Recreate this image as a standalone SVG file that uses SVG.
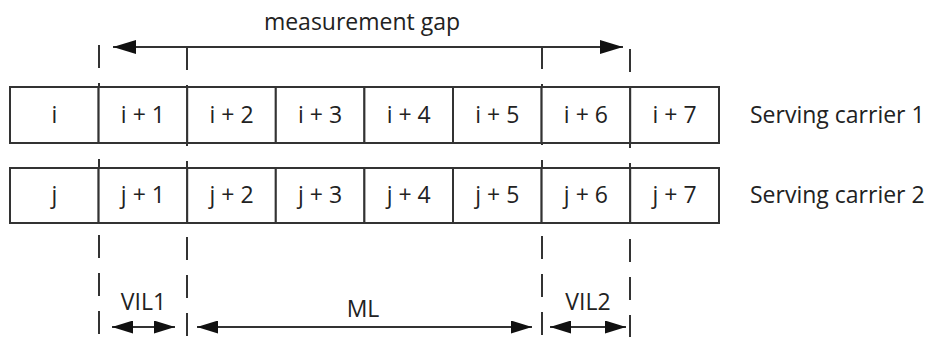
<svg xmlns="http://www.w3.org/2000/svg" width="932" height="342" viewBox="0 0 932 342">
  <style>
    .cell { fill: #ffffff; stroke: #333333; stroke-width: 2; }
    .t { font-family: "Open Sans", "Liberation Sans", sans-serif; font-size: 23px; fill: #222222; }
    .c { text-anchor: middle; }
    .dash { stroke: #333333; stroke-width: 2; stroke-dasharray: 23 15; fill: none; }
    .arr { stroke: #333333; stroke-width: 2; fill: none; }
  </style>
  <defs>
    <marker id="big" viewBox="0 0 23 14" refX="23" refY="7" markerWidth="23" markerHeight="14" markerUnits="userSpaceOnUse" orient="auto-start-reverse">
      <path d="M0,0 L23,7 L0,14 Z" fill="#111111"/>
    </marker>
    <marker id="small" viewBox="0 0 21 13" refX="21" refY="6.5" markerWidth="21" markerHeight="13" markerUnits="userSpaceOnUse" orient="auto-start-reverse">
      <path d="M0,0 L21,6.5 L0,13 Z" fill="#111111"/>
    </marker>
  </defs>
  <rect width="932" height="342" fill="#ffffff"/>

  <g id="connectors">
    <line class="dash" x1="99" y1="45" x2="99" y2="337"/>
    <line class="dash" x1="187" y1="47" x2="187" y2="337"/>
    <line class="dash" x1="542" y1="46" x2="542" y2="337"/>
    <line class="dash" x1="630" y1="49" x2="630" y2="337"/>
    <line id="gap-arrow" class="arr" x1="113" y1="47" x2="623" y2="47" marker-start="url(#big)" marker-end="url(#big)"/>
    <line id="vil1-arrow" class="arr" x1="112" y1="327" x2="175" y2="327" marker-start="url(#small)" marker-end="url(#small)"/>
    <line id="ml-arrow" class="arr" x1="197" y1="327" x2="532" y2="327" marker-start="url(#small)" marker-end="url(#small)"/>
    <line id="vil2-arrow" class="arr" x1="550" y1="327" x2="626" y2="327" marker-start="url(#small)" marker-end="url(#small)"/>
  </g>

  <g id="carrier1">
    <g id="c1-0"><rect class="cell" x="10" y="87" width="88.6" height="56"/><text class="t c" x="54.3" y="123">i</text></g>
    <g id="c1-1"><rect class="cell" x="98.6" y="87" width="88.6" height="56"/><text class="t c" x="142.9" y="123">i + 1</text></g>
    <g id="c1-2"><rect class="cell" x="187.2" y="87" width="88.6" height="56"/><text class="t c" x="231.5" y="123">i + 2</text></g>
    <g id="c1-3"><rect class="cell" x="275.8" y="87" width="88.6" height="56"/><text class="t c" x="320.1" y="123">i + 3</text></g>
    <g id="c1-4"><rect class="cell" x="364.4" y="87" width="88.6" height="56"/><text class="t c" x="408.7" y="123">i + 4</text></g>
    <g id="c1-5"><rect class="cell" x="453" y="87" width="88.6" height="56"/><text class="t c" x="497.3" y="123">i + 5</text></g>
    <g id="c1-6"><rect class="cell" x="541.6" y="87" width="88.6" height="56"/><text class="t c" x="585.9" y="123">i + 6</text></g>
    <g id="c1-7"><rect class="cell" x="630.2" y="87" width="88.8" height="56"/><text class="t c" x="674.6" y="123">i + 7</text></g>
    <text id="label-c1" class="t" x="750" y="123">Serving carrier 1</text>
  </g>

  <g id="carrier2">
    <g id="c2-0"><rect class="cell" x="10" y="168" width="88.6" height="55"/><text class="t c" x="54.3" y="203">j</text></g>
    <g id="c2-1"><rect class="cell" x="98.6" y="168" width="88.6" height="55"/><text class="t c" x="142.9" y="203">j + 1</text></g>
    <g id="c2-2"><rect class="cell" x="187.2" y="168" width="88.6" height="55"/><text class="t c" x="231.5" y="203">j + 2</text></g>
    <g id="c2-3"><rect class="cell" x="275.8" y="168" width="88.6" height="55"/><text class="t c" x="320.1" y="203">j + 3</text></g>
    <g id="c2-4"><rect class="cell" x="364.4" y="168" width="88.6" height="55"/><text class="t c" x="408.7" y="203">j + 4</text></g>
    <g id="c2-5"><rect class="cell" x="453" y="168" width="88.6" height="55"/><text class="t c" x="497.3" y="203">j + 5</text></g>
    <g id="c2-6"><rect class="cell" x="541.6" y="168" width="88.6" height="55"/><text class="t c" x="585.9" y="203">j + 6</text></g>
    <g id="c2-7"><rect class="cell" x="630.2" y="168" width="88.8" height="55"/><text class="t c" x="674.6" y="203">j + 7</text></g>
    <text id="label-c2" class="t" x="750" y="203">Serving carrier 2</text>
  </g>

  <g id="labels">
    <text id="label-gap" class="t c" x="362" y="30">measurement gap</text>
    <text id="label-vil1" class="t c" x="143.5" y="310">VIL1</text>
    <text id="label-ml" class="t c" x="363" y="317">ML</text>
    <text id="label-vil2" class="t c" x="588" y="310">VIL2</text>
  </g>
</svg>
